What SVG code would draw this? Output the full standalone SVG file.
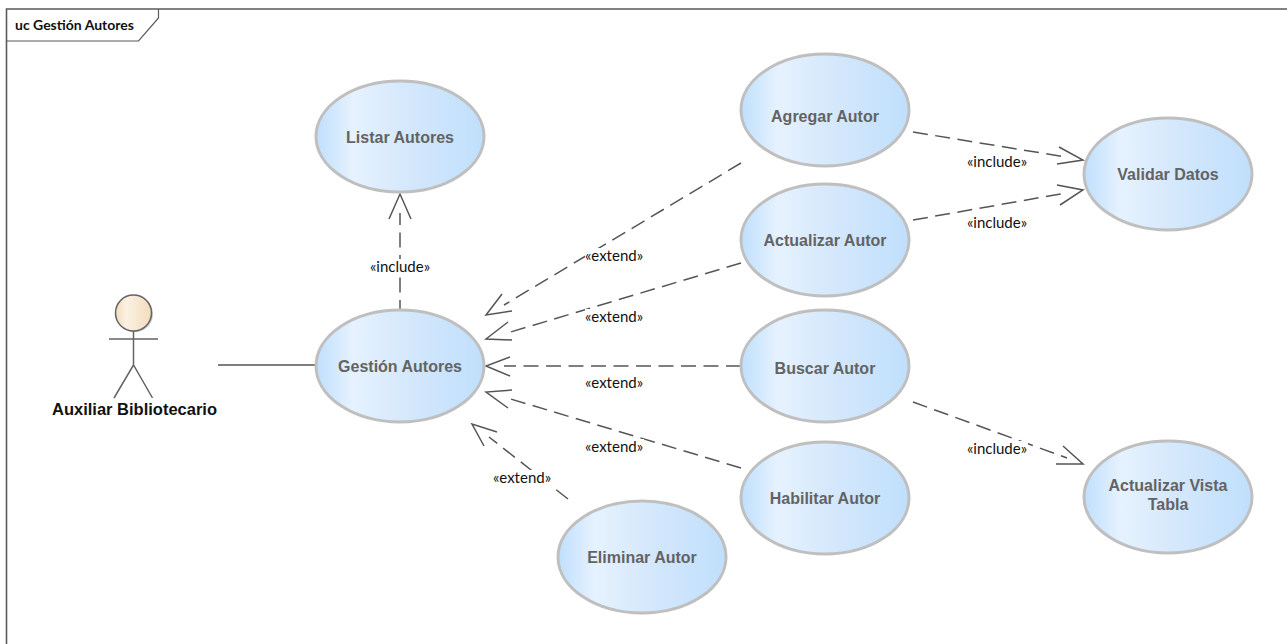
<svg xmlns="http://www.w3.org/2000/svg" width="1287" height="644" viewBox="0 0 1287 644">
<style>
.uc{stroke:#bfbfbf;stroke-width:3;fill:url(#g)}
.t{font:bold 16px "Liberation Sans",Arial,sans-serif;fill:#636363;text-anchor:middle}
.c{fill:none;stroke:#555;stroke-width:1.5}
.d{stroke-dasharray:15 7.500}
.l{font:15px Lato,"Liberation Sans",sans-serif;fill:#111;text-anchor:middle}
.bg{fill:#fff}
</style>
<defs>
<linearGradient id="g" x1="0" y1="0" x2="1" y2="0">
<stop offset="0" stop-color="#bfdffd"/><stop offset=".22" stop-color="#e6f2fe"/><stop offset=".5" stop-color="#d7e9fc"/><stop offset="1" stop-color="#c0dffc"/>
</linearGradient>
<linearGradient id="a" x1="0" y1="0" x2="1" y2="0">
<stop offset="0" stop-color="#f3dcbc"/><stop offset=".3" stop-color="#fbf1e3"/><stop offset="1" stop-color="#f3dcbc"/>
</linearGradient>
</defs>
<g id="frame">
<path d="M6.500 644V9H1287" fill="none" stroke="#5a5a5a" stroke-width="1.600"/>
<path d="M6.500 41H138.500L158.500 18V9" fill="none" stroke="#5a5a5a" stroke-width="1.200"/>
<text x="15" y="30" style="font:bold 14px Lato,'Liberation Sans',sans-serif" fill="#111">uc Gestión Autores</text>
</g>
<g id="connectors">
<path class="c" d="M218 365H315"/>
<path class="c d" d="M400 309V213" stroke-dashoffset="6"/>
<path class="c" d="M389 219L400 194L411 219"/>
<path class="c d" d="M741 163L504 305"/>
<path class="c" d="M502 294L486 315L512 311"/>
<path class="c d" d="M741 263L504 334"/>
<path class="c" d="M508 322L486 339L512 340"/>
<path class="c d" d="M741 366H504"/>
<path class="c" d="M510 357L486 366L510 376"/>
<path class="c d" d="M741 468L504 397"/>
<path class="c" d="M512 390L486 392L508 408"/>
<path class="c d" d="M568 499L489 437"/>
<path class="c" d="M497 432L472 424L484 446"/>
<path class="c d" d="M913 132L1066 157"/>
<path class="c" d="M1059 147L1083 160L1057 164"/>
<path class="c d" d="M913 220L1066 193"/>
<path class="c" d="M1057 185L1083 190L1060 205"/>
<path class="c d" d="M913 402L1067 458"/>
<path class="c" d="M1063 446L1083 464L1056 464"/>
<g id="labels">
<rect class="bg" x="369" y="259" width="61" height="16"/><text class="l" x="400" y="272">«include»</text>
<rect class="bg" x="585" y="248" width="59" height="16"/><text class="l" x="614" y="261">«extend»</text>
<rect class="bg" x="585" y="309" width="59" height="16"/><text class="l" x="614" y="322">«extend»</text>
<rect class="bg" x="585" y="375" width="59" height="16"/><text class="l" x="614" y="388">«extend»</text>
<rect class="bg" x="585" y="439" width="59" height="16"/><text class="l" x="614" y="452">«extend»</text>
<rect class="bg" x="492" y="470" width="60" height="16"/><text class="l" x="522" y="483">«extend»</text>
<rect class="bg" x="967" y="154" width="61" height="16"/><text class="l" x="997" y="167">«include»</text>
<rect class="bg" x="967" y="215" width="61" height="16"/><text class="l" x="997" y="228">«include»</text>
<rect class="bg" x="967" y="441" width="61" height="16"/><text class="l" x="997" y="454">«include»</text>
</g>
</g>
<g id="actor">
<circle cx="135" cy="314" r="18" fill="#c8c8c8"/>
<circle cx="133.500" cy="313" r="18" fill="url(#a)" stroke="#636363" stroke-width="1.500"/>
<path d="M109 339H158M133.500 331V365M114 398L133.500 365L152.500 398" fill="none" stroke="#636363" stroke-width="1.500"/>
<text x="134.500" y="415" style="font:bold 16.500px 'Liberation Sans',sans-serif" fill="#111" text-anchor="middle">Auxiliar Bibliotecario</text>
</g>
<g id="listar"><ellipse class="uc" cx="400" cy="136.500" rx="84" ry="55.500"/><text class="t" x="400" y="142.500">Listar Autores</text></g>
<g id="gestion"><ellipse class="uc" cx="400" cy="366" rx="84" ry="56"/><text class="t" x="400" y="372">Gestión Autores</text></g>
<g id="agregar"><ellipse class="uc" cx="825" cy="110" rx="84" ry="56"/><text class="t" x="825" y="122">Agregar Autor</text></g>
<g id="actualizar"><ellipse class="uc" cx="825" cy="240" rx="84" ry="56"/><text class="t" x="825" y="246">Actualizar Autor</text></g>
<g id="buscar"><ellipse class="uc" cx="825" cy="366" rx="84" ry="56"/><text class="t" x="825" y="374">Buscar Autor</text></g>
<g id="habilitar"><ellipse class="uc" cx="825" cy="498" rx="84" ry="56"/><text class="t" x="825" y="504">Habilitar Autor</text></g>
<g id="eliminar"><ellipse class="uc" cx="642" cy="557" rx="84" ry="56"/><text class="t" x="642" y="563">Eliminar Autor</text></g>
<g id="validar"><ellipse class="uc" cx="1168" cy="174" rx="84" ry="56"/><text class="t" x="1168" y="180">Validar Datos</text></g>
<g id="vista"><ellipse class="uc" cx="1168" cy="497" rx="84" ry="56"/><text class="t" x="1168" y="491">Actualizar Vista</text><text class="t" x="1168" y="510">Tabla</text></g>
</svg>
